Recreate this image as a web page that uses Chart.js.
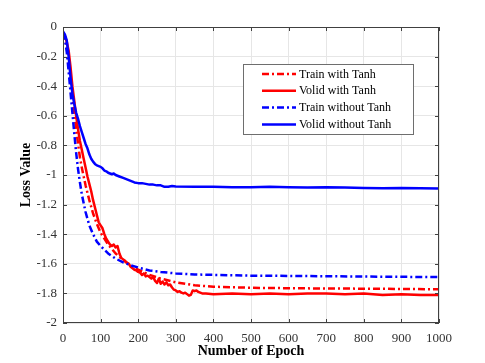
<!DOCTYPE html>
<html>
<head>
<meta charset="utf-8">
<script src="https://cdn.jsdelivr.net/npm/chart.js@4/dist/chart.umd.min.js"></script>
<style>
  html, body { margin: 0; padding: 0; background: #fff; }
  #wrap { width: 485px; height: 363px; position: relative; }
</style>
</head>
<body>
<div id="wrap"><canvas id="lossChart" width="485" height="363"></canvas></div>
<script>
// Data
const seriesNames = ['Train with Tanh', 'Volid with Tanh', 'Train without Tanh', 'Volid without Tanh'];

// smooth training curves share the same epochs
const trainEpochs = [0, 5, 10, 15, 20, 25, 30, 35, 40, 45, 50, 60, 70, 80, 90, 100, 120, 140, 160, 180, 200, 230, 260, 300, 350, 400, 500, 600, 700, 800, 900, 1000];
const trainTanh = [-0.04, -0.07, -0.13, -0.22, -0.34, -0.46, -0.58, -0.69, -0.79, -0.88, -0.95, -1.07, -1.17, -1.26, -1.33, -1.39, -1.47, -1.53, -1.575, -1.61, -1.64, -1.675, -1.70, -1.725, -1.745, -1.755, -1.762, -1.765, -1.767, -1.768, -1.77, -1.772];
const trainNoTanh = [-0.04, -0.08, -0.17, -0.30, -0.44, -0.58, -0.72, -0.85, -0.96, -1.05, -1.13, -1.25, -1.34, -1.40, -1.45, -1.48, -1.53, -1.565, -1.59, -1.61, -1.625, -1.645, -1.655, -1.665, -1.672, -1.675, -1.68, -1.682, -1.684, -1.686, -1.688, -1.69];

const validTanhEpochs = [0, 5, 10, 15, 20, 25, 30, 35, 40, 45, 50, 55, 60, 65, 70, 75, 80, 85, 90, 95, 100, 105, 110, 115, 120, 125, 130, 135, 140, 145, 150, 155, 160, 165, 170, 175, 180, 185, 190, 195, 200, 205, 210, 215, 220, 225, 230, 235, 240, 245, 250, 255, 260, 265, 270, 275, 280, 285, 290, 295, 300, 305, 310, 315, 320, 325, 330, 335, 340, 345, 350, 355, 360, 365, 370, 380, 400, 450, 500, 550, 600, 650, 700, 750, 800, 850, 900, 950, 1000];
const validTanh = [-0.04, -0.06, -0.10, -0.16, -0.27, -0.40, -0.50, -0.60, -0.69, -0.77, -0.83, -0.89, -0.95, -1.01, -1.06, -1.11, -1.17, -1.22, -1.27, -1.32, -1.34, -1.36, -1.40, -1.43, -1.45, -1.47, -1.48, -1.47, -1.49, -1.48, -1.53, -1.56, -1.57, -1.58, -1.595, -1.60, -1.62, -1.63, -1.64, -1.645, -1.655, -1.66, -1.675, -1.665, -1.685, -1.68, -1.69, -1.70, -1.69, -1.715, -1.73, -1.70, -1.735, -1.72, -1.74, -1.725, -1.745, -1.74, -1.76, -1.775, -1.78, -1.79, -1.785, -1.795, -1.80, -1.795, -1.805, -1.815, -1.81, -1.78, -1.785, -1.78, -1.79, -1.795, -1.80, -1.80, -1.805, -1.80, -1.805, -1.80, -1.805, -1.80, -1.80, -1.805, -1.80, -1.81, -1.805, -1.81, -1.81];

const validNoTanhEpochs = [0, 5, 10, 15, 20, 25, 30, 35, 40, 45, 50, 55, 60, 65, 70, 75, 80, 85, 90, 95, 100, 105, 110, 115, 120, 125, 130, 135, 140, 145, 150, 160, 170, 180, 190, 200, 210, 220, 230, 240, 250, 260, 270, 280, 290, 300, 350, 400, 450, 500, 550, 600, 650, 700, 750, 800, 850, 900, 950, 1000];
const validNoTanh = [-0.03, -0.05, -0.09, -0.20, -0.34, -0.45, -0.52, -0.58, -0.62, -0.67, -0.71, -0.75, -0.79, -0.82, -0.86, -0.89, -0.91, -0.925, -0.935, -0.94, -0.945, -0.955, -0.97, -0.975, -0.985, -0.99, -0.995, -0.99, -1.00, -1.005, -1.01, -1.02, -1.03, -1.04, -1.05, -1.055, -1.055, -1.06, -1.065, -1.065, -1.07, -1.07, -1.08, -1.08, -1.075, -1.078, -1.08, -1.08, -1.082, -1.083, -1.08, -1.083, -1.085, -1.082, -1.085, -1.087, -1.09, -1.088, -1.09, -1.092];

const xTicks = [0, 100, 200, 300, 400, 500, 600, 700, 800, 900, 1000];
const yTicks = [0, -0.2, -0.4, -0.6, -0.8, -1, -1.2, -1.4, -1.6, -1.8, -2];

const RED = '#ff0000';
const BLUE = '#0000ff';
const DASHDOT = [7, 3, 2, 3];
const serif = '"Liberation Serif", "Times New Roman", serif';

function toPoints(xs, ys) {
    return xs.map((x, i) => ({ x: x, y: ys[i] }));
}

// box, inward ticks and the legend, drawn like the matlab figure
const matlabFrame = {
    id: 'matlabFrame',
    afterDatasetsDraw(chart) {
        const { ctx, chartArea: a, scales } = chart;
        ctx.save();
        ctx.strokeStyle = '#404040';
        ctx.lineWidth = 1;
        ctx.strokeRect(a.left + 0.5, a.top + 0.5, a.right - a.left - 1, a.bottom - a.top - 1);
        ctx.beginPath();
        xTicks.forEach(v => {
            const px = Math.round(scales.x.getPixelForValue(v)) + 0.5;
            ctx.moveTo(px, a.bottom); ctx.lineTo(px, a.bottom - 4);
            ctx.moveTo(px, a.top); ctx.lineTo(px, a.top + 4);
        });
        yTicks.forEach(v => {
            const py = Math.round(scales.y.getPixelForValue(v)) + 0.5;
            ctx.moveTo(a.left, py); ctx.lineTo(a.left + 4, py);
            ctx.moveTo(a.right, py); ctx.lineTo(a.right - 4, py);
        });
        ctx.stroke();

        // legend
        const lx = 243, ly = 64, lw = 170, lh = 70;
        ctx.fillStyle = '#fff';
        ctx.fillRect(lx, ly, lw, lh);
        ctx.strokeStyle = '#6e6e6e';
        ctx.strokeRect(lx + 0.5, ly + 0.5, lw, lh);
        ctx.font = '12px ' + serif;
        ctx.textBaseline = 'middle';
        ctx.textAlign = 'left';
        chart.data.datasets.forEach((ds, i) => {
            const y = 74 + i * 16.8;
            ctx.beginPath();
            ctx.strokeStyle = ds.borderColor;
            ctx.lineWidth = 2.5;
            ctx.setLineDash(ds.borderDash || []);
            ctx.moveTo(262, y); ctx.lineTo(296, y);
            ctx.stroke();
            ctx.setLineDash([]);
            ctx.fillStyle = '#000';
            ctx.fillText(ds.label, 299, y + 0.5);
        });
        ctx.restore();
    }
};

const ctx = document.getElementById('lossChart').getContext('2d');
new Chart(ctx, {
    type: 'line',
    data: {
        datasets: [
            { label: seriesNames[0], data: toPoints(trainEpochs, trainTanh), borderColor: RED, borderDash: DASHDOT, order: 4 },
            { label: seriesNames[1], data: toPoints(validTanhEpochs, validTanh), borderColor: RED, order: 3 },
            { label: seriesNames[2], data: toPoints(trainEpochs, trainNoTanh), borderColor: BLUE, borderDash: DASHDOT, order: 2 },
            { label: seriesNames[3], data: toPoints(validNoTanhEpochs, validNoTanh), borderColor: BLUE, order: 1 }
        ]
    },
    options: {
        responsive: false,
        animation: false,
        events: [],
        layout: { padding: { top: 27, right: 46, left: 0, bottom: 0 } },
        elements: {
            point: { radius: 0 },
            line: { borderWidth: 2.5, tension: 0, fill: false, borderJoinStyle: 'round' }
        },
        plugins: {
            legend: { display: false },
            tooltip: { enabled: false }
        },
        scales: {
            x: {
                type: 'linear',
                min: 0,
                max: 1000,
                afterFit: s => { s.height = 40; },
                afterBuildTicks: s => { s.ticks = xTicks.map(v => ({ value: v })); },
                grid: { color: '#e6e6e6', drawTicks: false },
                border: { display: false },
                ticks: { padding: 8, color: '#333', font: { family: serif, size: 13 }, maxRotation: 0, callback: v => String(v) },
                title: { display: true, text: 'Number of Epoch', color: '#000', font: { family: serif, size: 14, weight: 'bold' }, padding: { top: 0, bottom: 3 } }
            },
            y: {
                type: 'linear',
                min: -2,
                max: 0,
                afterFit: s => { s.width = 63; },
                afterBuildTicks: s => { s.ticks = yTicks.map(v => ({ value: v })); },
                grid: { color: '#e6e6e6', drawTicks: false },
                border: { display: false },
                ticks: { padding: 6, color: '#333', font: { family: serif, size: 13 }, callback: v => String(Math.round(v * 10) / 10) },
                title: { display: true, text: 'Loss Value', color: '#000', font: { family: serif, size: 14, weight: 'bold' }, padding: { top: 18, bottom: 0 } }
            }
        }
    },
    plugins: [matlabFrame]
});
</script>
</body>
</html>
